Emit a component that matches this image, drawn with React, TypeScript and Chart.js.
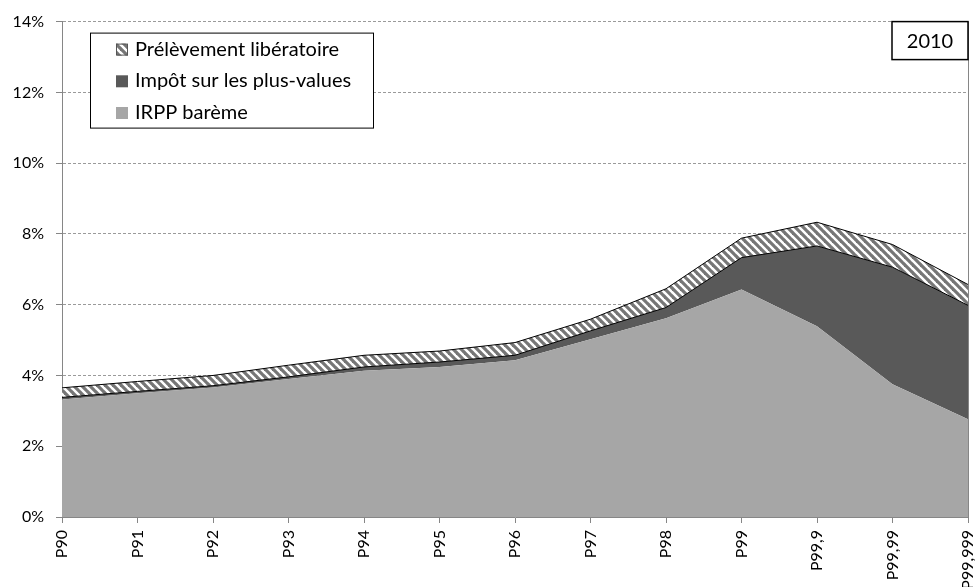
import React, { useEffect, useRef } from "react";
import { Chart, registerables } from "chart.js";

Chart.register(...registerables);

const categories = ["P90", "P91", "P92", "P93", "P94", "P95", "P96", "P97", "P98", "P99", "P99,9", "P99,99", "P99,999"];
const irppBareme = [3.32, 3.5, 3.66, 3.9, 4.13, 4.24, 4.43, 5.02, 5.62, 6.43, 5.39, 3.75, 2.76];
const impotPlusValues = [0.06, 0.05, 0.05, 0.06, 0.11, 0.14, 0.14, 0.24, 0.3, 0.9, 2.27, 3.31, 3.22];
const prelevementLiberatoire = [0.27, 0.28, 0.29, 0.33, 0.33, 0.31, 0.36, 0.33, 0.53, 0.55, 0.67, 0.64, 0.59];
const yTicks = [0, 2, 4, 6, 8, 10, 12, 14];
const yearLabel = "2010";
const legendLabels = ["Prélèvement libératoire", "Impôt sur les plus-values", "IRPP barème"];

const FONT = "Lato, 'Open Sans', sans-serif";
const AXIS = "#868686";

function makeHatch(): CanvasPattern | string {
  const s = 8;
  const c = document.createElement("canvas");
  c.width = s;
  c.height = s;
  const g = c.getContext("2d");
  if (!g) return "#cccccc";
  g.fillStyle = "#ffffff";
  g.fillRect(0, 0, s, s);
  g.strokeStyle = "#767676";
  g.lineWidth = 3.2;
  for (const k of [-s, 0, s]) {
    g.beginPath();
    g.moveTo(k - 1, -1);
    g.lineTo(k + s + 1, s + 1);
    g.stroke();
  }
  const p = g.createPattern(c, "repeat");
  return p || "#cccccc";
}

export default function App() {
  const ref = useRef<HTMLCanvasElement | null>(null);

  useEffect(() => {
    if (!ref.current) return;
    const hatch = makeHatch();
    const legendFills: any[] = [hatch, "#595959", "#a6a6a6"];

    const overlay = {
      id: "overlay",
      afterDraw(chart: any) {
        const { ctx } = chart;
        const { left, right, top, bottom } = chart.chartArea;
        ctx.save();
        // right frame line
        ctx.strokeStyle = AXIS;
        ctx.lineWidth = 1;
        ctx.beginPath();
        ctx.moveTo(Math.round(right) + 0.5, top);
        ctx.lineTo(Math.round(right) + 0.5, bottom);
        ctx.stroke();

        // legend box
        const lx = left + 28, ly = top + 11, lw = 283, lh = 95;
        ctx.fillStyle = "#ffffff";
        ctx.fillRect(lx, ly, lw, lh);
        ctx.strokeStyle = "#000000";
        ctx.lineWidth = 1;
        ctx.strokeRect(lx + 0.5, ly + 0.5, lw, lh);
        ctx.font = `20px ${FONT}`;
        ctx.textBaseline = "alphabetic";
        ctx.textAlign = "left";
        legendLabels.forEach((lab, i) => {
          const base = ly + 23 + i * 31.7;
          const sx = lx + 26, sy = base - 12;
          ctx.fillStyle = legendFills[i];
          ctx.fillRect(sx, sy, 12, 12);
          if (i === 0) {
            ctx.strokeStyle = "#555555";
            ctx.strokeRect(sx + 0.5, sy + 0.5, 11, 11);
          }
          ctx.fillStyle = "#000000";
          ctx.fillText(lab, lx + 45, base);
        });

        // year box
        const bw = 76, bh = 38;
        const bx = right - bw, by = top;
        ctx.fillStyle = "#ffffff";
        ctx.fillRect(bx, by, bw, bh);
        ctx.strokeStyle = "#000000";
        ctx.lineWidth = 1.5;
        ctx.strokeRect(bx, by, bw, bh);
        ctx.fillStyle = "#000000";
        ctx.font = `20px ${FONT}`;
        ctx.textAlign = "center";
        ctx.textBaseline = "middle";
        ctx.fillText(yearLabel, bx + bw / 2, by + bh / 2 + 1);
        ctx.restore();
      },
    };

    const chart = new Chart(ref.current, {
      type: "line",
      data: {
        labels: categories,
        datasets: [
          {
            label: legendLabels[2],
            data: irppBareme,
            fill: "origin",
            backgroundColor: "#a6a6a6",
            borderWidth: 0,
            borderColor: "rgba(0,0,0,0)",
            pointRadius: 0,
            tension: 0,
          },
          {
            label: legendLabels[1],
            data: impotPlusValues,
            fill: "-1",
            backgroundColor: "#595959",
            borderColor: "#000000",
            borderWidth: 1,
            pointRadius: 0,
            tension: 0,
          },
          {
            label: legendLabels[0],
            data: prelevementLiberatoire,
            fill: "-1",
            backgroundColor: hatch as any,
            borderColor: "#000000",
            borderWidth: 1,
            pointRadius: 0,
            tension: 0,
          },
        ],
      },
      options: {
        animation: false,
        responsive: false,
        maintainAspectRatio: false,
        layout: { padding: { top: 21, right: 7, left: 0, bottom: 0 } },
        plugins: { legend: { display: false }, tooltip: { enabled: false } },
        scales: {
          x: {
            offset: false,
            grid: { drawOnChartArea: false, color: AXIS, tickLength: 6 },
            border: { color: AXIS },
            ticks: {
              autoSkip: false,
              maxRotation: 90,
              minRotation: 90,
              padding: 7,
              color: "#000000",
              font: { family: FONT, size: 16 },
            },
            afterFit(s: any) {
              s.height = 70;
              s.paddingLeft = 0;
              s.paddingRight = 0;
            },
          },
          y: {
            stacked: true,
            min: 0,
            max: 14,
            afterBuildTicks(s: any) {
              s.ticks = yTicks.map((v) => ({ value: v }));
            },
            ticks: {
              padding: 12,
              color: "#000000",
              font: { family: FONT, size: 16 },
              callback: (v: any) => `${v}%`,
            },
            grid: {
              color: (c: any) => (c.tick && c.tick.value === 0 ? "rgba(0,0,0,0)" : "#9a9a9a"),
              tickColor: AXIS,
              tickLength: 6,
            },
            border: { color: AXIS, dash: [3, 2] },
            afterFit(s: any) {
              s.width = 62;
            },
          },
        },
      } as any,
      plugins: [overlay],
    });
    return () => chart.destroy();
  }, []);

  return (
    <div style={{ position: "fixed", left: 0, top: 0, width: 975, height: 587, background: "#ffffff" }}>
      <canvas ref={ref} width={975} height={587} style={{ display: "block", width: 975, height: 587 }} />
    </div>
  );
}
